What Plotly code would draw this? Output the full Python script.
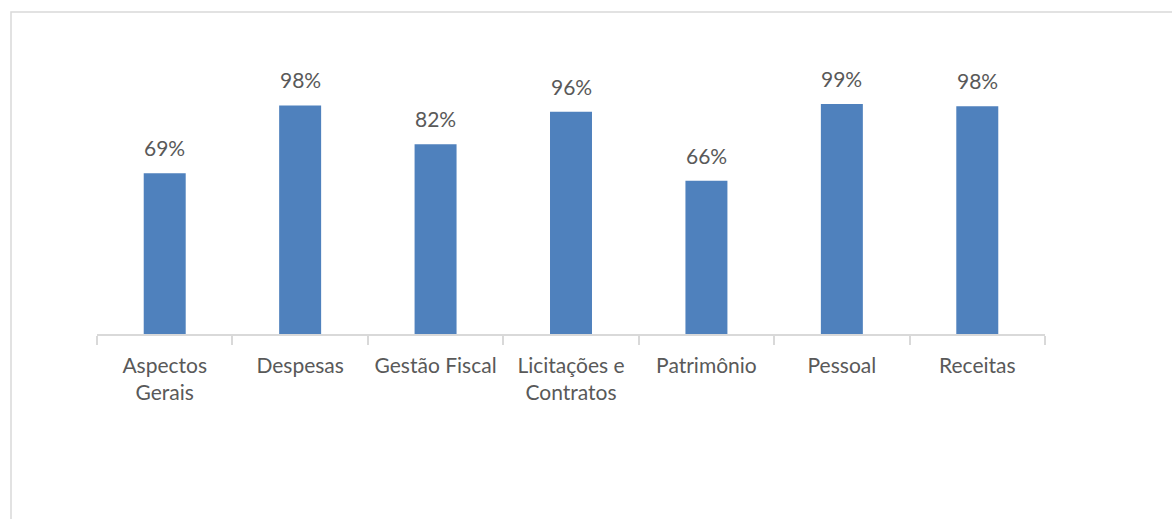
import plotly.graph_objects as go

categories = ["Aspectos<br>Gerais", "Despesas", "Gestão Fiscal", "Licitações e<br>Contratos",
              "Patrimônio", "Pessoal", "Receitas"]
values = [0.691, 0.983, 0.816, 0.956, 0.659, 0.989, 0.980]
labels = ["69%", "98%", "82%", "96%", "66%", "99%", "98%"]

W, H = 1172, 519
L, R, T, B = 97, 127, 55, 185
FONT = "Lato"
TXT = "#595959"

fig = go.Figure(go.Bar(x=categories, y=values, marker=dict(color="#4f81bd", line=dict(width=0)),
                       hoverinfo="skip"))

for c, v, t in zip(categories, values, labels):
    fig.add_annotation(x=c, y=v, text=t, showarrow=False, yanchor="bottom", yshift=11,
                       font=dict(family=FONT, size=21, color=TXT))

pw, ph = W - L - R, H - T - B
fig.add_shape(type="rect", xref="paper", yref="paper",
              x0=(11 - L) / pw, x1=(W + 20 - L) / pw,
              y0=(H - B - (H + 20)) / ph, y1=(H - B - 12) / ph,
              line=dict(color="#d9d9d9", width=1.5), fillcolor="rgba(0,0,0,0)", layer="below")

fig.update_layout(
    width=W, height=H, margin=dict(l=L, r=R, t=T, b=B),
    paper_bgcolor="white", plot_bgcolor="white",
    bargap=0.69, showlegend=False,
    font=dict(family=FONT, size=21, color=TXT),
    xaxis=dict(showline=True, linecolor="#d9d9d9", linewidth=1.5, ticks="outside",
               tickson="boundaries", ticklen=9, tickcolor="#d9d9d9", tickwidth=1.5,
               tickfont=dict(family=FONT, size=21, color=TXT), ticklabelstandoff=12,
               showgrid=False, fixedrange=True),
    yaxis=dict(range=[0, 1.2], visible=False, showgrid=False, fixedrange=True),
)

fig.write_html("out.html")
